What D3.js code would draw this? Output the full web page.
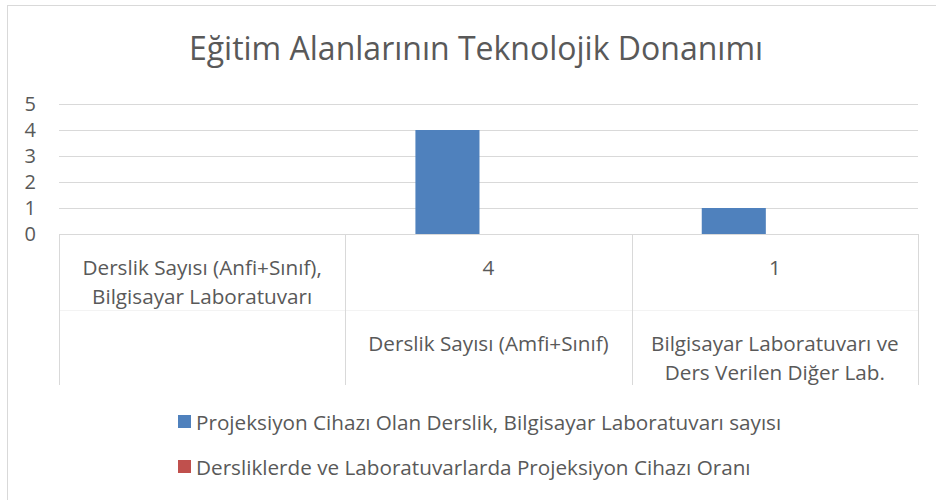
<!DOCTYPE html>
<html>
<head>
<meta charset="utf-8">
<script src="https://cdn.jsdelivr.net/npm/d3@7"></script>
<style>
	body { margin: 0; background: #fff; }
	text { font-family: "Open Sans", sans-serif; fill: #595959; }
</style>
</head>
<body>
<div id="chart"></div>
<script>
var title = "Eğitim Alanlarının Teknolojik Donanımı"
var innerLabels = ["Derslik Sayısı (Anfi+Sınıf), Bilgisayar Laboratuvarı", "4", "1"]
var outerLabels = ["", "Derslik Sayısı (Amfi+Sınıf)", "Bilgisayar Laboratuvarı ve Ders Verilen Diğer Lab."]
var seriesNames = ["Projeksiyon Cihazı Olan Derslik, Bilgisayar Laboratuvarı sayısı", "Dersliklerde ve Laboratuvarlarda Projeksiyon Cihazı Oranı"]
var seriesColors = ["#4f81bd", "#c0504d"]
var projeksiyonSayisi = [0, 4, 1]
var projeksiyonOrani = [null, null, null]
var yTicks = [0, 1, 2, 3, 4, 5]

var W = 936, H = 500
var plotLeft = 59, plotRight = 918, plotTop = 104, plotBottom = 234
var row1 = 234, row2 = 310, rowEnd = 385
var labelSize = 20.7

var svg = d3.select("#chart").append("svg").attr("width", W).attr("height", H)

// chart border (cut off at right/bottom in the picture)
svg.append("rect").attr("x", 7.5).attr("y", 5.5).attr("width", 960).attr("height", 520)
	.attr("fill", "#fff").attr("stroke", "#d9d9d9")

svg.append("text").attr("x", 476).attr("y", 60).attr("text-anchor", "middle")
	.style("font-size", "32px").text(title)

var y = d3.scaleLinear().domain([0, 5]).range([plotBottom, plotTop])
var x = d3.scaleBand().domain(d3.range(innerLabels.length)).range([plotLeft, plotRight])
var x1 = d3.scaleBand().domain([0, 1]).range([0, x.bandwidth()]).paddingInner(18 / 82).paddingOuter(70 / 82)

var yAxis = svg.append("g").attr("transform", "translate(" + plotLeft + ",0)")
	.call(d3.axisLeft(y).tickValues(yTicks).tickFormat(d3.format("d")).tickSize(-(plotRight - plotLeft)).tickPadding(23))
yAxis.select(".domain").remove()
yAxis.selectAll("line").attr("stroke", "#d9d9d9")
yAxis.selectAll("text").style("font-size", "20px").attr("fill", "#595959")

var series = [projeksiyonSayisi, projeksiyonOrani]
series.forEach(function(vals, s) {
	svg.append("g").selectAll("rect")
		.data(vals.map(function(v, i) { return { i: i, v: v } }).filter(function(d) { return d.v }))
		.enter().append("rect")
		.attr("x", function(d) { return x(d.i) + x1(s) })
		.attr("width", x1.bandwidth())
		.attr("y", function(d) { return y(d.v) })
		.attr("height", function(d) { return y(0) - y(d.v) })
		.attr("fill", seriesColors[s])
})

// multi-level category axis
var grid = svg.append("g").attr("stroke", "#d9d9d9").attr("fill", "none")
grid.append("line").attr("x1", plotLeft).attr("x2", plotRight).attr("y1", row2 + 0.5).attr("y2", row2 + 0.5).attr("stroke", "#f3f3f3")
grid.append("line").attr("x1", plotLeft).attr("x2", plotRight).attr("y1", y(0) + 0.5).attr("y2", y(0) + 0.5)
x.domain().concat([innerLabels.length]).forEach(function(i) {
	var xx = Math.round(i < innerLabels.length ? x(i) : plotRight) + 0.5
	grid.append("line").attr("x1", xx).attr("x2", xx).attr("y1", row1).attr("y2", rowEnd)
})

function wrapLines(str, maxW, size) {
	var probe = svg.append("text").style("font-size", size + "px")
	var words = str.split(" "), lines = [], line = ""
	words.forEach(function(w) {
		var test = line ? line + " " + w : w
		probe.text(test)
		if (probe.node().getComputedTextLength() > maxW && line) { lines.push(line); line = w }
		else line = test
	})
	if (line) lines.push(line)
	probe.remove()
	return lines
}

function drawRow(labels, rowTop) {
	labels.forEach(function(lab, i) {
		if (!lab) return
		var lines = wrapLines(lab, x.bandwidth() - 16, labelSize)
		var t = svg.append("text").attr("text-anchor", "middle").style("font-size", labelSize + "px")
		lines.forEach(function(l, k) {
			t.append("tspan").attr("x", x(i) + x.bandwidth() / 2).attr("y", rowTop + 33 + k * 28.5)
				.attr("dominant-baseline", "central").text(l)
		})
	})
}
drawRow(innerLabels, row1)
drawRow(outerLabels, row2)

var legend = svg.append("g").selectAll("g").data(seriesNames).enter().append("g")
	.attr("transform", function(d, i) { return "translate(178," + (415 + i * 45) + ")" })
legend.append("rect").attr("width", 13).attr("height", 13).attr("fill", function(d, i) { return seriesColors[i] })
legend.append("text").attr("x", 18).attr("y", 7).attr("dominant-baseline", "central")
	.style("font-size", labelSize + "px").text(function(d) { return d })
</script>
</body>
</html>
